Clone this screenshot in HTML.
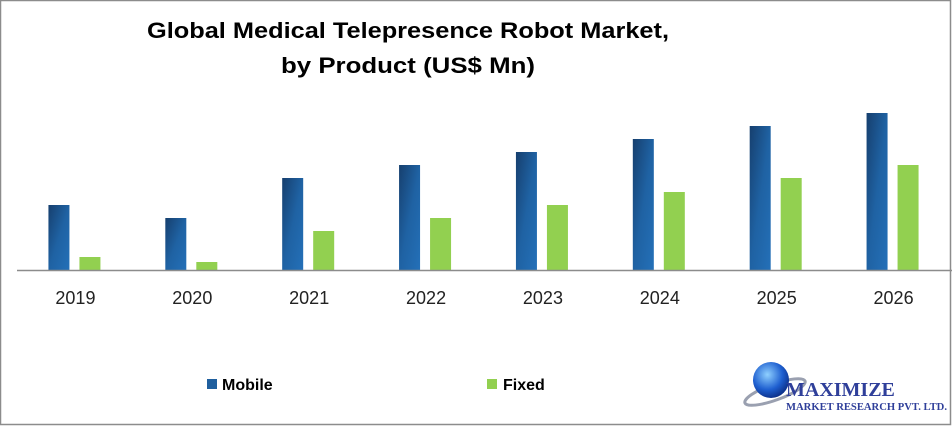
<!DOCTYPE html>
<html><head><meta charset="utf-8"><style>
html,body{margin:0;padding:0;background:#fff;}
svg{display:block;font-family:"Liberation Sans",sans-serif;}
</style></head><body>
<svg id="chart" width="952" height="426" viewBox="0 0 952 426">
<defs>
<linearGradient id="gMob" x1="0" y1="0" x2="1" y2="1">
<stop offset="0" stop-color="#163f6e"/><stop offset="0.5" stop-color="#1f62a3"/><stop offset="1" stop-color="#2470b8"/>
</linearGradient>
<radialGradient id="globe" cx="0.4" cy="0.35" r="0.7"><stop offset="0" stop-color="#8fd0ff"/><stop offset="0.6" stop-color="#1e5fd0"/><stop offset="1" stop-color="#0a2a80"/></radialGradient>
</defs>
<rect x="0.5" y="0.5" width="950" height="424" fill="#fff" stroke="#8c8c8c" stroke-width="1.5"/>
<text x="408" y="38" text-anchor="middle" font-size="22" font-weight="bold" textLength="522" lengthAdjust="spacingAndGlyphs">Global Medical Telepresence Robot Market,</text>
<text x="408" y="73" text-anchor="middle" font-size="22" font-weight="bold" textLength="254" lengthAdjust="spacingAndGlyphs">by Product (US$ Mn)</text>
<g id="plot"></g>
<g>
<rect x="207" y="379" width="10" height="10" fill="#1f5f9e"/>
<text x="222" y="390" font-size="16" font-weight="bold">Mobile</text>
<rect x="487" y="379" width="10" height="10" fill="#92d050"/>
<text x="503" y="390" font-size="16" font-weight="bold">Fixed</text>
</g>
<g>
<ellipse cx="775" cy="392" rx="32" ry="8" fill="none" stroke="#9aa0b0" stroke-width="3" transform="rotate(-20 775 392)"/>
<circle cx="771" cy="380" r="18" fill="url(#globe)"/>
<text x="786" y="396" font-family="Liberation Serif,serif" font-size="20" font-weight="bold" fill="#2f3f9a">MAXIMIZE</text>
<text x="786" y="410" font-family="Liberation Serif,serif" font-size="10" font-weight="bold" fill="#2f3f9a" textLength="161" lengthAdjust="spacingAndGlyphs">MARKET RESEARCH PVT. LTD.</text>
</g>
</svg>
<script>
const categories = ["2019","2020","2021","2022","2023","2024","2025","2026"];
const mobileValues = [65,52,92,105,118,131,144,157];
const fixedValues = [13,8,39,52,65,78,92,105];
const plotLeft = 17, plotRight = 952, baseY = 270, pxPerUnit = 1;
const bandW = (plotRight - plotLeft) / categories.length;
function xCenter(i){ return plotLeft + bandW * (i + 0.5); }
function yScale(v){ return baseY - v * pxPerUnit; }
const ns = "http://www.w3.org/2000/svg";
const plot = document.getElementById("plot");
function mk(tag, attrs){ const e = document.createElementNS(ns, tag); for (const k in attrs) e.setAttribute(k, attrs[k]); plot.appendChild(e); return e; }
categories.forEach((c, i) => {
  const cx = xCenter(i);
  const m = mk("rect", {x: cx - 27, y: yScale(mobileValues[i]), width: 21, height: baseY - yScale(mobileValues[i]), fill: "url(#gMob)"});
  
  
  const f = mk("rect", {x: cx + 4, y: yScale(fixedValues[i]), width: 21, height: baseY - yScale(fixedValues[i]), fill: "#92d050"});
  
  
  const t = mk("text", {x: cx, y: 304, "text-anchor": "middle", "font-size": "18", fill: "#222"});
  t.textContent = c;
  
  
});
const ax = mk("line", {x1: plotLeft, y1: baseY + 0.5, x2: plotRight, y2: baseY + 0.5, stroke: "#8c8c8c", "stroke-width": 1.5});


</script>
</body></html>
